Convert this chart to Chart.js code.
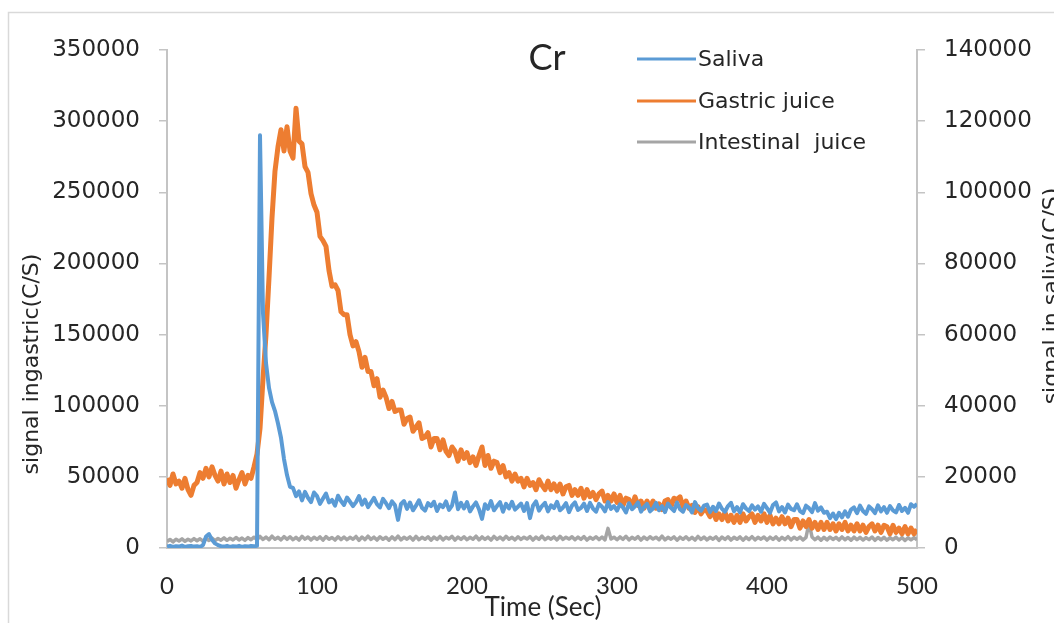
<!DOCTYPE html>
<html>
<head>
<meta charset="utf-8">
<script src="https://cdn.jsdelivr.net/npm/chart.js@4.4.1/dist/chart.umd.min.js"></script>
<style>
  html, body { margin: 0; padding: 0; background: #fff; }
  canvas { display: block; }
</style>
</head>
<body>
<canvas id="crChart" width="1054" height="623"></canvas>
<script>
// Cr signal (thousands of counts per second), one reading every 2 s from 0 to 500 s
const salivaK = [
  0.4, 0.6, 0.3, 0.5, 0.4, 0.7, 0.3, 0.5, 0.6, 0.4,
  0.5, 0.3, 0.8, 3.2, 3.9, 2.3, 1.3, 0.8, 0.5, 0.4,
  0.6, 0.3, 0.5, 0.4, 0.6, 0.3, 0.5, 0.4, 0.6, 0.5,
  0.6, 116, 66, 52, 45, 41, 38.5, 35, 31, 25,
  20.5, 17.2, 16.9, 14.6, 15.9, 13.4, 15.8, 14.1, 12.9, 15.6,
  14.6, 12.4, 13.9, 15.3, 12.8, 13.5, 11.9, 14.7, 13.2, 12.1,
  14.2, 13.0, 11.8, 12.9, 14.6, 12.2, 13.6, 11.5, 12.8, 14.1,
  12.3, 11.4, 13.8, 12.6, 11.2, 13.1, 12.0, 7.9, 12.4, 13.2,
  11.0, 12.8, 10.6, 11.9, 13.4, 11.3, 10.5, 12.6, 11.8, 13.0,
  10.4, 12.2, 11.5, 13.1, 10.7, 11.9, 15.6, 10.9, 12.7, 11.1,
  12.9, 10.3, 11.7, 12.8, 10.9, 8.2, 12.3, 11.0, 13.2, 10.6,
  11.8, 12.9, 10.2, 12.4, 11.1, 13.0, 10.8, 11.6, 12.5, 10.4,
  12.6, 8.4, 11.9, 13.1, 10.5, 11.8, 12.7, 10.3, 12.0, 11.2,
  13.0, 10.6, 11.4, 12.6, 10.1, 11.9, 12.8, 10.7, 11.3, 12.5,
  10.4, 12.7, 11.1, 10.2, 12.4, 11.6, 10.3, 12.9, 11.0, 11.8,
  10.5, 12.3, 11.4, 10.0, 12.6, 10.9, 11.7, 12.8, 10.2, 11.5,
  12.4, 10.3, 11.1, 12.7, 10.6, 11.8, 10.1, 12.5, 11.3, 10.4,
  12.8, 10.9, 10.2, 12.1, 11.4, 10.0, 12.9, 11.2, 10.5, 11.9,
  12.2, 10.1, 11.6, 10.4, 12.5, 11.0, 10.2, 11.8, 12.7, 10.3,
  11.5, 10.0, 12.3, 11.1, 10.4, 12.0, 10.8, 11.7, 10.2, 12.4,
  11.2, 9.9, 12.1, 12.8, 10.3, 11.5, 10.0, 12.2, 11.0, 10.6,
  12.3, 10.4, 9.8, 11.9, 11.2, 10.1, 12.6, 10.5, 11.4, 9.9,
  10.2, 8.4, 9.7, 8.1, 9.9, 8.6, 10.3, 8.8, 10.8, 11.4,
  9.8, 11.9, 10.4, 9.6, 11.7, 10.9, 9.8, 12.0, 10.3, 11.5,
  9.9, 11.8, 10.6, 10.0, 12.1, 10.4, 11.3, 9.9, 12.3, 11.6,
  12.4
];

const gastricK = [
  49, 44, 52, 45, 47, 42, 49, 41, 37, 44,
  46, 53, 49, 56, 50, 57, 51, 47, 54, 45,
  52, 46, 51, 42, 48, 53, 45, 51, 49, 57,
  66, 84, 119, 150, 190, 232, 265, 282, 294, 279,
  296, 279, 274, 309, 286, 284, 268, 264, 249, 241,
  236, 219, 216, 212, 195, 184, 185, 181, 166, 164,
  164, 150, 142, 145, 138, 127, 134, 124, 124, 114,
  119, 106, 111, 106, 98, 103, 96, 97, 97, 87,
  91, 92, 82, 85, 88, 77, 78, 81, 71, 77,
  77, 69, 76, 68, 65, 71, 68, 61, 69, 63,
  67, 60, 64, 58, 65, 71, 58, 65, 56, 61,
  60, 53, 58, 50, 53, 47, 52, 47, 49, 43,
  49, 44, 46, 41, 48, 44, 41, 47, 41, 45,
  40, 45, 38, 43, 44, 37, 41, 37, 42, 35,
  41, 36, 39, 34, 38, 40, 33, 37, 33, 38,
  32, 37, 30, 35, 34, 29, 36, 30, 33, 28,
  33, 28, 33, 28, 31, 27, 33, 34, 29, 35,
  34, 36, 29, 33, 28, 30, 25, 29, 24, 27,
  26, 22, 26, 20, 24, 20, 25, 19, 23, 18,
  23, 18, 24, 19, 22, 24, 18, 23, 19, 24,
  18, 23, 17, 21, 17, 22, 17, 21, 15, 20,
  20, 14, 19, 15, 20, 14, 18, 13, 18, 13,
  18, 13, 17, 12, 17, 13, 18, 12, 16, 12,
  17, 12, 16, 11, 15, 17, 12, 16, 11, 16,
  15, 10, 16, 11, 14, 10, 15, 10, 14, 10,
  13
];

const intestinalK = [
  4.6, 6.0, 4.3, 6.2, 4.9, 6.4, 4.7, 6.1, 5.0, 6.6,
  5.1, 6.5, 4.8, 6.8, 5.3, 7.0, 5.2, 6.7, 5.5, 7.1,
  5.4, 6.9, 5.6, 7.4, 5.7, 7.0, 5.4, 7.3, 5.8, 7.6,
  5.9, 8.1, 6.0, 7.7, 5.8, 8.3, 6.2, 7.5, 5.7, 8.0,
  6.1, 7.9, 5.8, 7.5, 5.6, 8.2, 6.2, 7.7, 5.7, 7.6,
  6.0, 7.8, 5.5, 8.0, 6.1, 7.4, 5.6, 7.9, 5.9, 7.7,
  5.8, 7.5, 6.2, 8.1, 5.4, 7.7, 5.9, 8.3, 6.0, 7.6,
  5.6, 7.9, 6.1, 7.5, 5.5, 7.8, 5.9, 8.4, 5.7, 7.6,
  6.2, 7.8, 5.6, 8.2, 5.8, 7.5, 6.1, 7.9, 5.5, 7.7,
  6.0, 8.1, 5.7, 7.6, 6.3, 8.2, 5.6, 7.7, 6.1, 7.9,
  5.8, 7.5, 6.2, 8.3, 5.7, 7.8, 6.0, 7.6, 5.6, 8.1,
  6.1, 7.7, 5.8, 8.2, 6.2, 7.5, 5.7, 7.9, 6.0, 7.6,
  6.3, 8.0, 5.6, 7.7, 6.1, 8.4, 5.8, 7.5, 6.2, 7.8,
  5.7, 8.2, 6.0, 7.6, 6.3, 7.9, 5.8, 7.7, 6.1, 8.0,
  5.6, 7.5, 6.2, 7.9, 5.9, 7.7, 5.7, 13.8, 6.3, 7.6,
  5.8, 7.8, 6.1, 8.2, 5.7, 7.5, 6.2, 8.0, 5.6, 7.7,
  6.0, 7.9, 6.3, 7.6, 5.8, 8.3, 5.7, 7.5, 6.2, 7.8,
  5.5, 7.6, 6.1, 7.9, 5.8, 7.5, 5.6, 8.1, 6.0, 7.7,
  5.7, 7.5, 6.2, 7.8, 5.4, 7.7, 6.0, 7.9, 5.6, 7.5,
  6.1, 7.8, 5.5, 7.6, 5.9, 8.0, 5.7, 7.5, 6.2, 7.7,
  5.6, 7.6, 6.0, 7.8, 5.5, 7.5, 5.9, 8.0, 5.7, 7.6,
  6.0, 7.7, 5.6, 7.5, 17.4, 7.8, 5.8, 7.6, 5.5, 7.5,
  5.7, 7.7, 6.0, 7.5, 5.6, 7.8, 5.8, 7.4, 5.5, 7.6,
  5.8, 7.5, 5.6, 7.3, 5.9, 7.7, 5.4, 7.4, 5.7, 7.5,
  5.5, 7.3, 5.8, 7.6, 5.6, 7.4, 5.3, 7.2, 5.7, 7.3,
  5.8
];

const seriesNames = ['Saliva', 'Gastric juice', 'Intestinal  juice'];
const seriesColors = ['#5b9bd5', '#ed7d31', '#a5a5a5'];
const xTicks = [0, 100, 200, 300, 400, 500];
const leftTicks = [0, 50000, 100000, 150000, 200000, 250000, 300000, 350000];
const rightTicks = [0, 20000, 40000, 60000, 80000, 100000, 120000, 140000];

// sampling grid: one point every 2 s
const times = [];
for (let t = 0; t <= 500; t += 2) times.push(t);

function toPoints(valuesK) {
    return times.map((t, i) => ({ x: t, y: valuesK[i] * 1000 }));
}

const tickFont = { family: 'DejaVu Sans', size: 23 };
const textColor = '#262626';
const axisColor = '#c4c4c4';

const decor = {
    id: 'decor',
    beforeDraw(chart) {
        const ctx = chart.ctx;
        ctx.save();
        ctx.fillStyle = '#fff';
        ctx.fillRect(0, 0, chart.width, chart.height);
        ctx.strokeStyle = '#d9d9d9';
        ctx.lineWidth = 1.5;
        ctx.beginPath();
        ctx.moveTo(8.5, chart.height);
        ctx.lineTo(8.5, 12.5);
        ctx.lineTo(chart.width, 12.5);
        ctx.stroke();
        ctx.restore();
    },
    afterDraw(chart) {
        const ctx = chart.ctx;
        ctx.save();
        ctx.fillStyle = textColor;

        // title
        ctx.font = '36px Lato';
        ctx.textAlign = 'center';
        ctx.textBaseline = 'middle';
        ctx.fillText('Cr', 547, 58);

        // legend
        ctx.font = '22px "DejaVu Sans"';
        ctx.textAlign = 'left';
        const rows = [59, 101, 142];
        chart.data.datasets.forEach((ds, i) => {
            ctx.strokeStyle = ds.borderColor;
            ctx.lineWidth = 3;
            ctx.beginPath();
            ctx.moveTo(637, rows[i]);
            ctx.lineTo(696, rows[i]);
            ctx.stroke();
            ctx.fillStyle = textColor;
            ctx.fillText(ds.label, 698, rows[i] + 1);
        });

        // axis titles
        ctx.font = '22px "DejaVu Sans"';
        ctx.textAlign = 'center';
        ctx.save();
        ctx.translate(32, 364);
        ctx.rotate(-Math.PI / 2);
        ctx.fillText('signal ingastric(C/S)', 0, 0);
        ctx.restore();

        ctx.save();
        ctx.translate(1052, 296);
        ctx.rotate(-Math.PI / 2);
        ctx.fillText('signal in saliva(C/S)', 0, 0);
        ctx.restore();

        ctx.font = '26px Lato';
        ctx.fillText('Time (Sec)', 543, 608);
        ctx.restore();
    }
};

new Chart(document.getElementById('crChart'), {
    type: 'line',
    data: {
        datasets: [
            {
                label: seriesNames[0],
                data: toPoints(salivaK),
                yAxisID: 'y1',
                borderColor: seriesColors[0],
                borderWidth: 4
            },
            {
                label: seriesNames[1],
                data: toPoints(gastricK),
                yAxisID: 'y',
                borderColor: seriesColors[1],
                borderWidth: 5
            },
            {
                label: seriesNames[2],
                data: toPoints(intestinalK),
                yAxisID: 'y',
                borderColor: seriesColors[2],
                borderWidth: 3.5
            }
        ]
    },
    options: {
        responsive: false,
        animation: false,
        devicePixelRatio: 1,
        layout: { padding: { top: 50, left: 0, right: 0, bottom: 0 } },
        elements: {
            point: { radius: 0 },
            line: { tension: 0, borderJoinStyle: 'round' }
        },
        plugins: {
            legend: { display: false },
            tooltip: { enabled: false }
        },
        scales: {
            x: {
                type: 'linear',
                min: 0,
                max: 500,
                afterFit: (scale) => { scale.height = 75; },
                afterBuildTicks: (scale) => { scale.ticks = xTicks.map(v => ({ value: v })); },
                ticks: {
                    color: textColor,
                    font: { family: 'Lato', size: 24 },
                    padding: 24,
                    maxRotation: 0,
                    callback: (v) => String(v)
                },
                grid: { drawOnChartArea: false, drawTicks: false },
                border: { color: axisColor, width: 2 }
            },
            y: {
                position: 'left',
                min: 0,
                max: 350000,
                afterFit: (scale) => { scale.width = 167; },
                afterBuildTicks: (scale) => { scale.ticks = leftTicks.map(v => ({ value: v })); },
                ticks: {
                    color: textColor,
                    font: tickFont,
                    padding: 19,
                    callback: (v) => String(v)
                },
                grid: { drawOnChartArea: false, drawTicks: true, tickLength: 8, color: axisColor, lineWidth: 1.5 },
                border: { color: axisColor, width: 2 }
            },
            y1: {
                position: 'right',
                min: 0,
                max: 140000,
                afterFit: (scale) => { scale.width = 137; },
                afterBuildTicks: (scale) => { scale.ticks = rightTicks.map(v => ({ value: v })); },
                ticks: {
                    color: textColor,
                    font: tickFont,
                    padding: 19,
                    callback: (v) => String(v)
                },
                grid: { drawOnChartArea: false, drawTicks: true, tickLength: 8, color: axisColor, lineWidth: 1.5 },
                border: { color: axisColor, width: 2 }
            }
        }
    },
    plugins: [decor]
});
</script>
</body>
</html>
